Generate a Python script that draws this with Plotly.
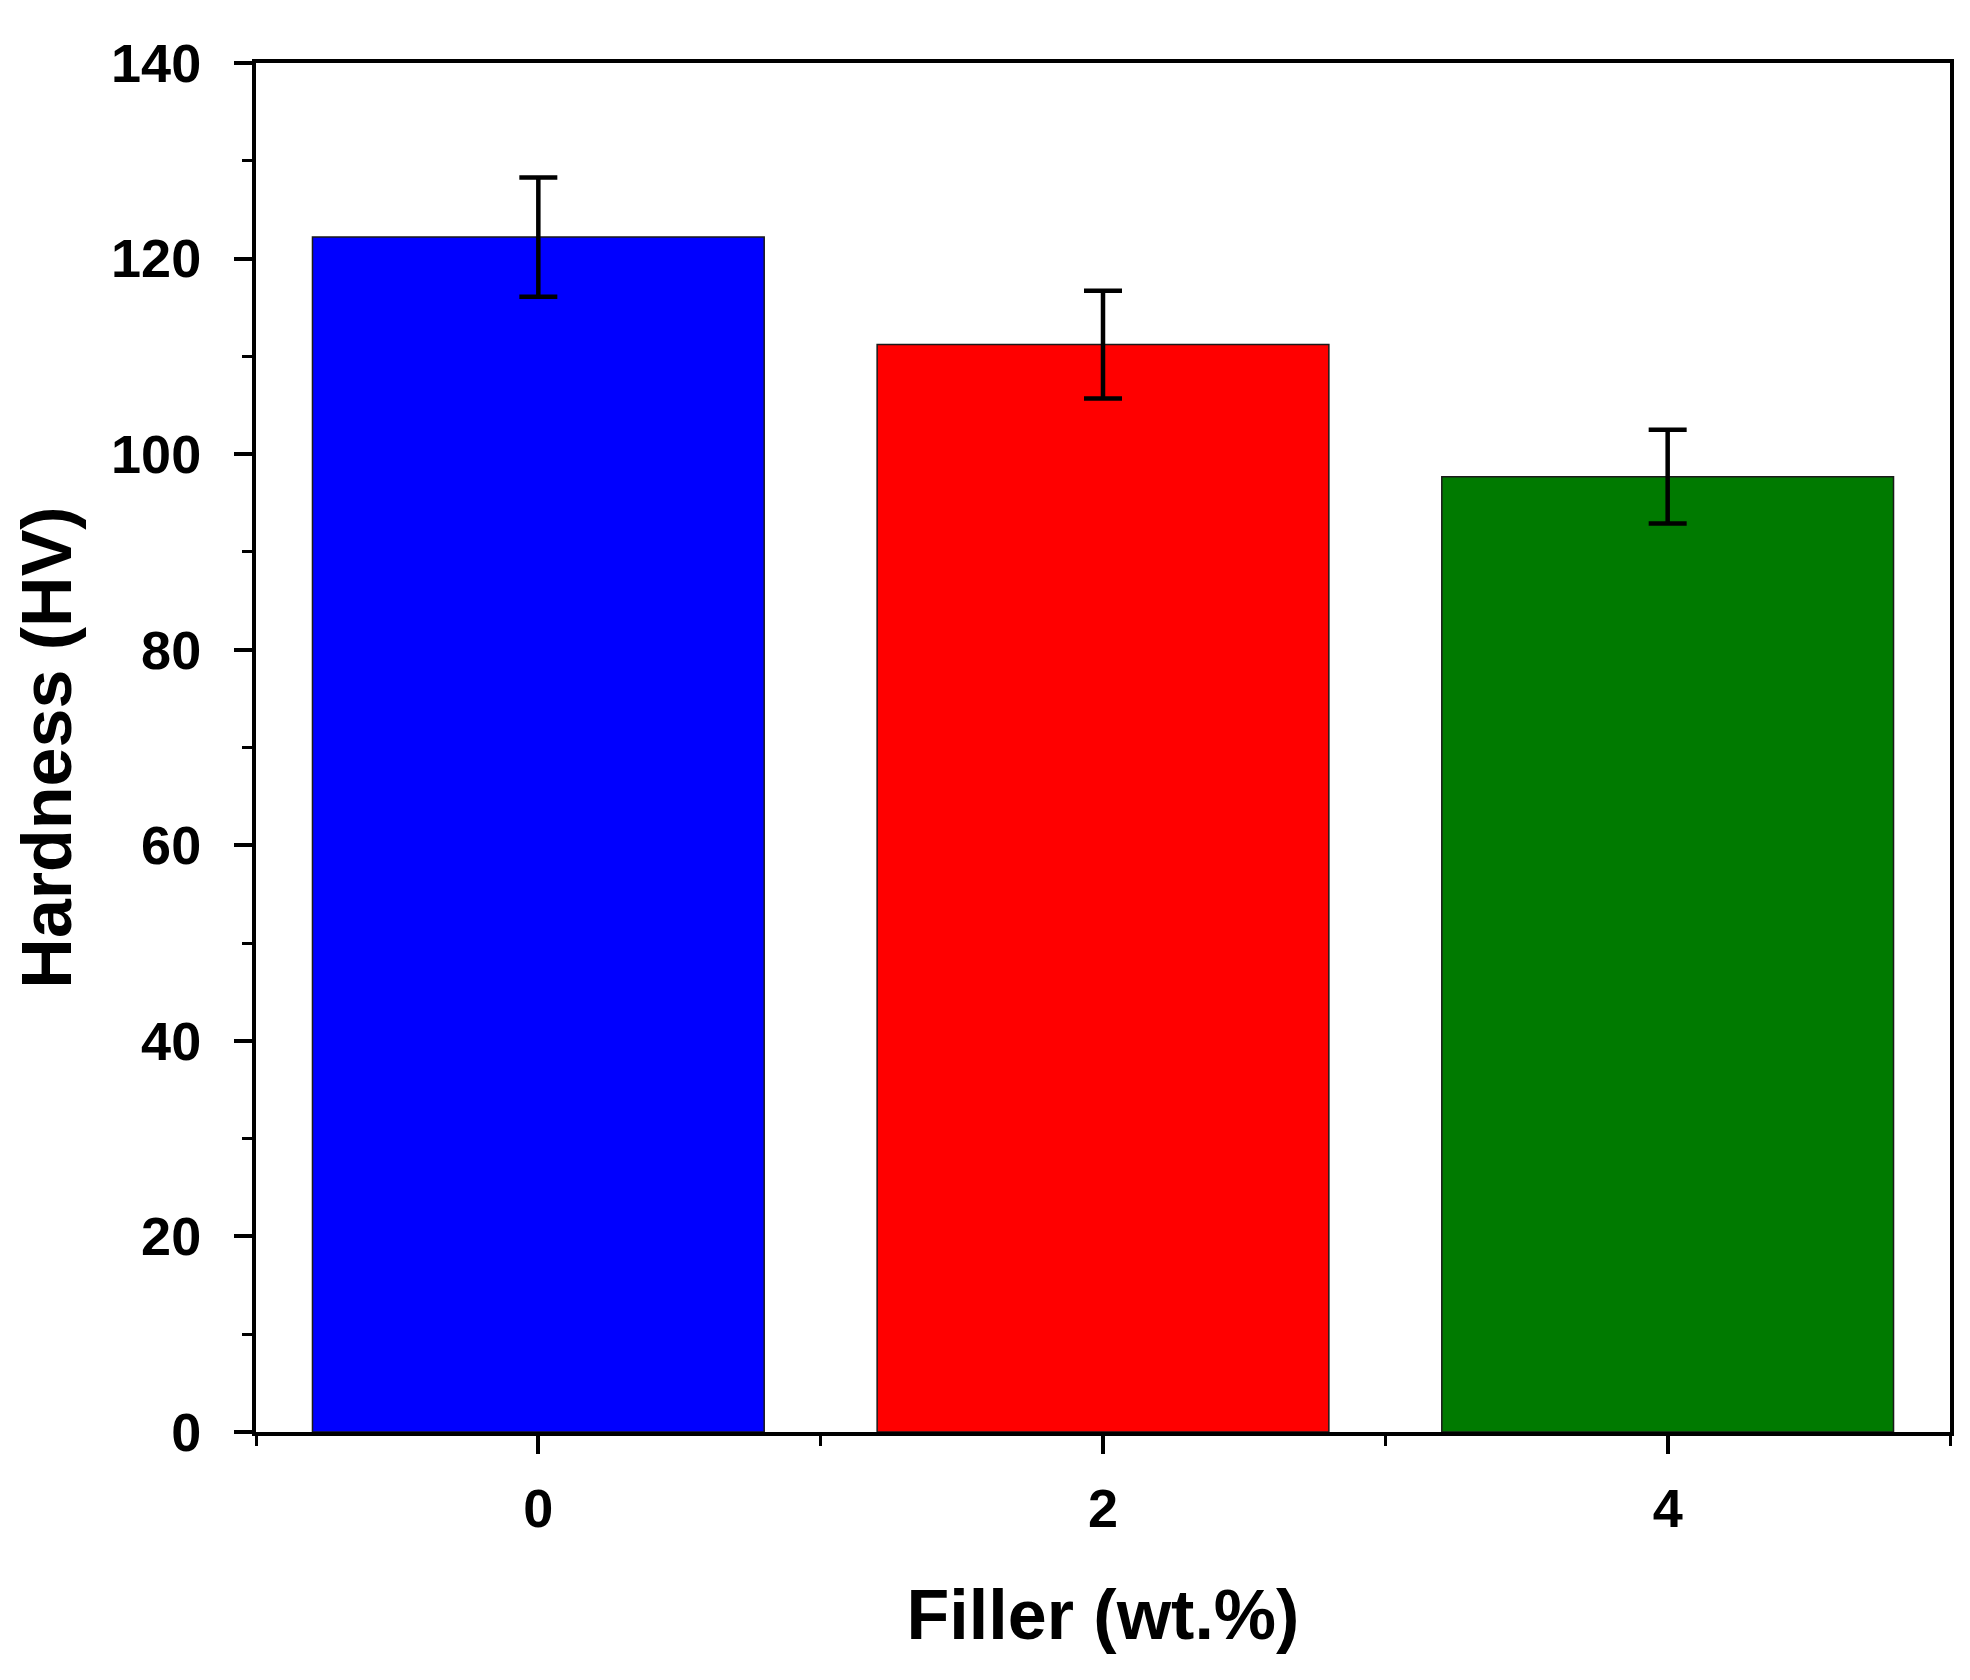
import plotly.graph_objects as go

# data
filler = [0, 2, 4]
hardness = [122.2, 111.2, 97.7]
hardness_err = [6.1, 5.5, 4.8]
bar_colors = ["#0000ff", "#ff0000", "#007a00"]
tick_labels = ["0", "2", "4"]

FONT = "Liberation Sans, Arial"

fig = go.Figure()
fig.add_trace(go.Bar(
    x=filler,
    y=hardness,
    width=1.6,
    marker=dict(color=bar_colors, line=dict(color="#1a1a1a", width=1.5)),
    error_y=dict(type="data", array=hardness_err, visible=True,
                 color="black", thickness=4.5, width=19),
    showlegend=False,
))

axis_common = dict(
    showline=True, linecolor="black", linewidth=4, mirror=True,
    ticks="outside", ticklen=18, tickwidth=4, tickcolor="black",
    showgrid=False, zeroline=False,
    tickfont=dict(family=FONT, size=54, color="black", weight="bold"),
)

fig.update_xaxes(
    range=[-1, 5], tickvals=filler, ticktext=tick_labels,
    minor=dict(ticks="outside", ticklen=10, tickwidth=3, tickcolor="black",
               dtick=1, tick0=-1),
    ticklabelstandoff=8,
    title=dict(text="Filler (wt.%)", standoff=54,
               font=dict(family=FONT, size=70, color="black", weight="bold")),
    **axis_common,
)
fig.update_yaxes(
    range=[0, 140], dtick=20,
    minor=dict(ticks="outside", ticklen=10, tickwidth=3, tickcolor="black",
               dtick=10),
    ticklabelstandoff=22,
    title=dict(text="Hardness (HV)", standoff=20,
               font=dict(family=FONT, size=70, color="black", weight="bold")),
    **axis_common,
)

fig.update_layout(
    width=1970, height=1680,
    margin=dict(l=248, r=28, t=55, b=256),
    paper_bgcolor="white", plot_bgcolor="white",
)

fig.write_html("out.html")
